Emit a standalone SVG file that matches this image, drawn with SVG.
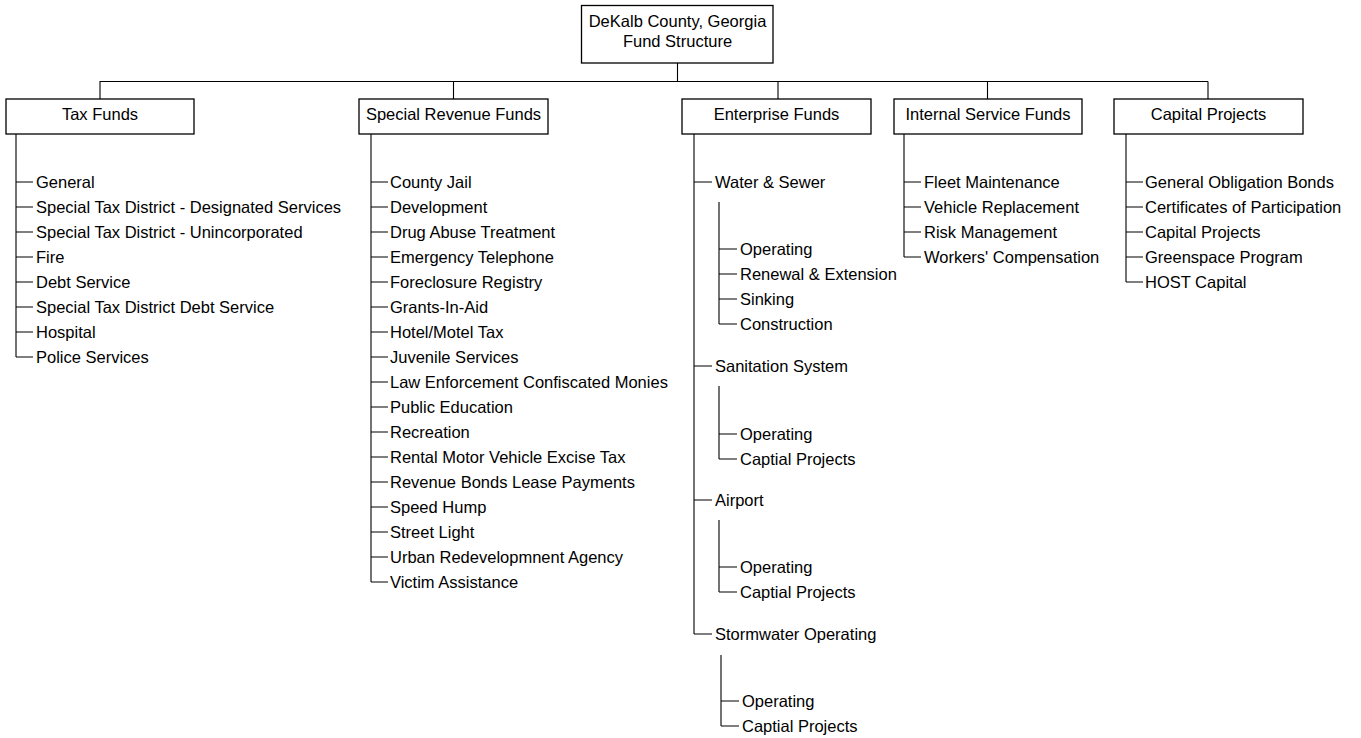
<svg xmlns="http://www.w3.org/2000/svg" width="1361" height="738" viewBox="0 0 1361 738">
<style>
  .box { fill: #fff; stroke: #000; stroke-width: 1.3; }
  .ln { fill: none; stroke: #000; stroke-width: 1.1; }
  text { font-family: "Liberation Sans", Arial, sans-serif; font-size: 16.5px; fill: #000; }
  .c { text-anchor: middle; }
</style>
<rect width="1361" height="738" fill="#fff"/>
<g id="connectors">
  <path class="ln" d="M677.5 63 V81.5 M99.5 81.5 H1208 M100 81.5 V99 M453.5 81.5 V99 M778 81.5 V99 M987.5 81.5 V99 M1208 81.5 V99"/>
  <!-- Tax Funds -->
  <path class="ln" d="M16 134 V357 M16 182 H33 M16 207 H33 M16 232 H33 M16 257 H33 M16 282 H33 M16 307 H33 M16 332 H33 M16 357 H33"/>
  <!-- Special Revenue -->
  <path class="ln" d="M371 134 V582 M371 182 H388 M371 207 H388 M371 232 H388 M371 257 H388 M371 282 H388 M371 307 H388 M371 332 H388 M371 357 H388 M371 382 H388 M371 407 H388 M371 432 H388 M371 457 H388 M371 482 H388 M371 507 H388 M371 532 H388 M371 557 H388 M371 582 H388"/>
  <!-- Enterprise -->
  <path class="ln" d="M694 134 V634 M694 182 H712 M694 366 H712 M694 500 H712 M694 634 H712"/>
  <path class="ln" d="M719 202 V324 M719 249 H737 M719 274 H737 M719 299 H737 M719 324 H737"/>
  <path class="ln" d="M719 386 V459 M719 434 H737 M719 459 H737"/>
  <path class="ln" d="M719 520 V592 M719 567 H737 M719 592 H737"/>
  <path class="ln" d="M721 655 V726 M721 701 H739 M721 726 H739"/>
  <!-- Internal Service -->
  <path class="ln" d="M904 134 V257 M904 182 H921 M904 207 H921 M904 232 H921 M904 257 H921"/>
  <!-- Capital Projects -->
  <path class="ln" d="M1126 134 V282 M1126 182 H1143 M1126 207 H1143 M1126 232 H1143 M1126 257 H1143 M1126 282 H1143"/>
</g>
<g id="root">
  <rect class="box" x="581.5" y="5.5" width="191.5" height="57.5"/>
  <text class="c" x="677.5" y="27">DeKalb County, Georgia</text>
  <text class="c" x="677.5" y="47">Fund Structure</text>
</g>
<g id="tax-funds">
  <rect class="box" x="6" y="99" width="188" height="35"/>
  <text class="c" x="100" y="120">Tax Funds</text>
  <text x="36" y="188">General</text>
  <text x="36" y="213">Special Tax District - Designated Services</text>
  <text x="36" y="238">Special Tax District - Unincorporated</text>
  <text x="36" y="263">Fire</text>
  <text x="36" y="288">Debt Service</text>
  <text x="36" y="313">Special Tax District Debt Service</text>
  <text x="36" y="338">Hospital</text>
  <text x="36" y="363">Police Services</text>
</g>
<g id="special-revenue-funds">
  <rect class="box" x="359" y="99" width="189" height="35"/>
  <text class="c" x="453.5" y="120">Special Revenue Funds</text>
  <text x="390" y="188">County Jail</text>
  <text x="390" y="213">Development</text>
  <text x="390" y="238">Drug Abuse Treatment</text>
  <text x="390" y="263">Emergency Telephone</text>
  <text x="390" y="288">Foreclosure Registry</text>
  <text x="390" y="313">Grants-In-Aid</text>
  <text x="390" y="338">Hotel/Motel Tax</text>
  <text x="390" y="363">Juvenile Services</text>
  <text x="390" y="388">Law Enforcement Confiscated Monies</text>
  <text x="390" y="413">Public Education</text>
  <text x="390" y="438">Recreation</text>
  <text x="390" y="463">Rental Motor Vehicle Excise Tax</text>
  <text x="390" y="488">Revenue Bonds Lease Payments</text>
  <text x="390" y="513">Speed Hump</text>
  <text x="390" y="538">Street Light</text>
  <text x="390" y="563">Urban Redevelopmnent Agency</text>
  <text x="390" y="588">Victim Assistance</text>
</g>
<g id="enterprise-funds">
  <rect class="box" x="682" y="99" width="189" height="35"/>
  <text class="c" x="776.5" y="120">Enterprise Funds</text>
  <text x="715" y="188">Water &amp; Sewer</text>
  <text x="740" y="255">Operating</text>
  <text x="740" y="280">Renewal &amp; Extension</text>
  <text x="740" y="305">Sinking</text>
  <text x="740" y="330">Construction</text>
  <text x="715" y="372">Sanitation System</text>
  <text x="740" y="440">Operating</text>
  <text x="740" y="465">Captial Projects</text>
  <text x="715" y="506">Airport</text>
  <text x="740" y="573">Operating</text>
  <text x="740" y="598">Captial Projects</text>
  <text x="715" y="640">Stormwater Operating</text>
  <text x="742" y="707">Operating</text>
  <text x="742" y="732">Captial Projects</text>
</g>
<g id="internal-service-funds">
  <rect class="box" x="894" y="99" width="188" height="35"/>
  <text class="c" x="988" y="120">Internal Service Funds</text>
  <text x="924" y="188">Fleet Maintenance</text>
  <text x="924" y="213">Vehicle Replacement</text>
  <text x="924" y="238">Risk Management</text>
  <text x="924" y="263">Workers' Compensation</text>
</g>
<g id="capital-projects">
  <rect class="box" x="1114" y="99" width="189" height="35"/>
  <text class="c" x="1208.5" y="120">Capital Projects</text>
  <text x="1145" y="188">General Obligation Bonds</text>
  <text x="1145" y="213">Certificates of Participation</text>
  <text x="1145" y="238">Capital Projects</text>
  <text x="1145" y="263">Greenspace Program</text>
  <text x="1145" y="288">HOST Capital</text>
</g>
</svg>
